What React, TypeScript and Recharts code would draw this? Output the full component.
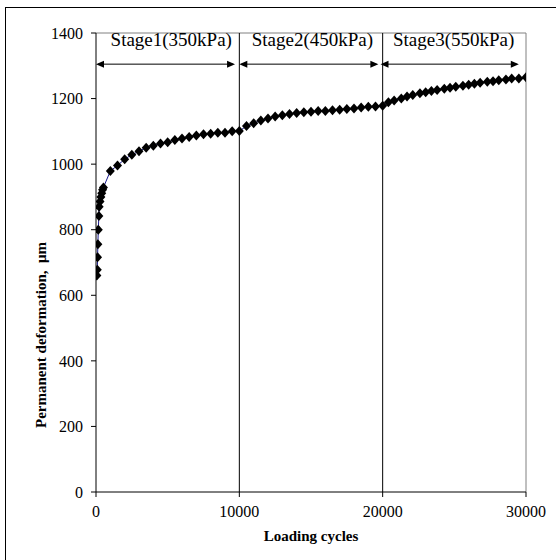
import React from 'react';
import { LineChart, Line, XAxis, YAxis, ReferenceLine, ReferenceDot, Label } from 'recharts';

// ---- data ----
const cycles = [
  60, 90, 110, 130, 160, 200, 220, 280, 340, 400, 460, 520,
  1000, 1500, 2000, 2500, 3000, 3500, 4000, 4500, 5000, 5500, 6000, 6500, 7000, 7500, 8000, 8500, 9000, 9500, 10000,
  10500, 11000, 11500, 12000, 12500, 13000, 13500, 14000, 14500, 15000, 15500, 16000, 16500, 17000, 17500, 18000, 18500, 19000, 19500, 20000,
  20400, 20800, 21300, 21700, 22100, 22600, 23000, 23400, 23800, 24300, 24700, 25100, 25600, 26000, 26400, 26800, 27300, 27700, 28100, 28600, 29000, 29500, 30000,
];
const deformation = [
  660, 678, 716, 756, 800, 842, 870, 886, 900, 911, 922, 929,
  979, 996, 1015, 1029, 1039, 1050, 1056, 1063, 1067, 1074, 1078, 1083, 1087, 1091, 1093, 1096, 1096, 1100, 1101,
  1116, 1125, 1133, 1139, 1145, 1149, 1153, 1156, 1158, 1160, 1162, 1162, 1164, 1166, 1168, 1170, 1173, 1175, 1176, 1178,
  1189, 1194, 1200, 1206, 1211, 1216, 1219, 1223, 1226, 1230, 1233, 1236, 1239, 1242, 1245, 1248, 1251, 1253, 1256, 1258, 1261, 1261, 1265,
];
const xTicks = [0, 10000, 20000, 30000];
const yTicks = [0, 200, 400, 600, 800, 1000, 1200, 1400];
const stageBounds = [10000, 20000];
const stageLabels = ['Stage1(350kPa)', 'Stage2(450kPa)', 'Stage3(550kPa)'];
const stageArrowStart = [0, 10000, 19850];
const stageArrowEnd = [9700, 19700, 29500];
const stageLabelX = [5250, 15100, 24950];
const stageArrowY = 1305;

const data = cycles.map((x, i) => ({ x, y: deformation[i] }));

const FONT = '"Liberation Serif", "Times New Roman", serif';

const Diamond = (props: any) => {
  const { cx, cy, index } = props;
  if (cx == null || cy == null) return <g key={index} />;
  const w = 4.5, h = 5;
  return (
    <polygon
      key={index}
      points={`${cx},${cy - h} ${cx + w},${cy} ${cx},${cy + h} ${cx - w},${cy}`}
      fill="#000"
      stroke="none"
    />
  );
};

const Arrow = (props: any) => {
  const { x1, y1, x2 } = props;
  const hl = 8, hw = 3.5;
  return (
    <g>
      <line x1={x1 + 2} y1={y1} x2={x2 - 2} y2={y1} stroke="#000" strokeWidth={1} />
      <polygon points={`${x1},${y1} ${x1 + hl},${y1 - hw} ${x1 + hl},${y1 + hw}`} fill="#000" />
      <polygon points={`${x2},${y1} ${x2 - hl},${y1 - hw} ${x2 - hl},${y1 + hw}`} fill="#000" />
    </g>
  );
};

export default function App() {
  return (
    <div style={{ position: 'absolute', left: 0, top: 0, width: 556, height: 560, background: '#fff' }}>
      <div
        style={{
          position: 'absolute', left: 5, top: 7, right: 0, bottom: 0,
          borderTop: '1px solid #000', borderLeft: '1px solid #000', pointerEvents: 'none',
        }}
      />
      <LineChart width={556} height={560} data={data} margin={{ top: 33, right: 30, bottom: 0, left: 0 }}>
        <XAxis
          type="number"
          dataKey="x"
          domain={[0, 30000]}
          ticks={xTicks}
          interval={0}
          height={68}
          tickSize={5}
          tickMargin={9}
          axisLine={{ stroke: '#000' }}
          tickLine={{ stroke: '#000' }}
          tick={{ fill: '#000', fontSize: 16, fontFamily: FONT }}
          allowDataOverflow
        >
          <Label
            value="Loading cycles"
            position="insideBottom"
            offset={19}
            fill="#000"
            style={{ fontWeight: 'bold', fontSize: 15, fontFamily: FONT, fill: '#000' }}
          />
        </XAxis>
        <YAxis
          type="number"
          domain={[0, 1400]}
          ticks={yTicks}
          interval={0}
          width={96}
          tickSize={5}
          tickMargin={8}
          axisLine={{ stroke: '#000' }}
          tickLine={{ stroke: '#000' }}
          tick={{ fill: '#000', fontSize: 16, fontFamily: FONT }}
          allowDataOverflow
        >
          <Label
            content={(p: any) => {
              const vb = p.viewBox || { x: 0, y: 33 };
              const tx = vb.x + 46;
              const ty = vb.y + 302;
              return (
                <text
                  x={tx}
                  y={ty}
                  transform={`rotate(-90, ${tx}, ${ty})`}
                  textAnchor="middle"
                  fontFamily={FONT}
                  fontSize={15}
                  fontWeight="bold"
                  fill="#000"
                  style={{ whiteSpace: 'pre' }}
                >
                  {'Permanent deformation,  \u03bcm'}
                </text>
              );
            }}
          />
        </YAxis>
        <ReferenceLine y={1400} stroke="#808080" strokeWidth={1} />
        <ReferenceLine x={30000} stroke="#808080" strokeWidth={1} />
        {stageBounds.map((b) => (
          <ReferenceLine key={b} x={b} stroke="#000" strokeWidth={1} />
        ))}
        {stageLabels.map((s, i) => (
          <ReferenceLine
            key={'a' + i}
            segment={[{ x: stageArrowStart[i], y: stageArrowY }, { x: stageArrowEnd[i], y: stageArrowY }]}
            shape={Arrow}
          />
        ))}
        {stageLabels.map((s, i) => (
          <ReferenceDot
            key={'l' + i}
            x={stageLabelX[i]}
            y={stageArrowY}
            r={1}
            shape={(p: any) => (
              <text x={p.cx} y={p.cy - 18} textAnchor="middle" fontFamily={FONT} fontSize={19} fill="#000">
                {s}
              </text>
            )}
          />
        ))}
        <Line
          type="linear"
          dataKey="y"
          stroke="#1a1a8c"
          strokeWidth={1}
          dot={Diamond}
          activeDot={false}
          isAnimationActive={false}
        />
      </LineChart>
    </div>
  );
}
